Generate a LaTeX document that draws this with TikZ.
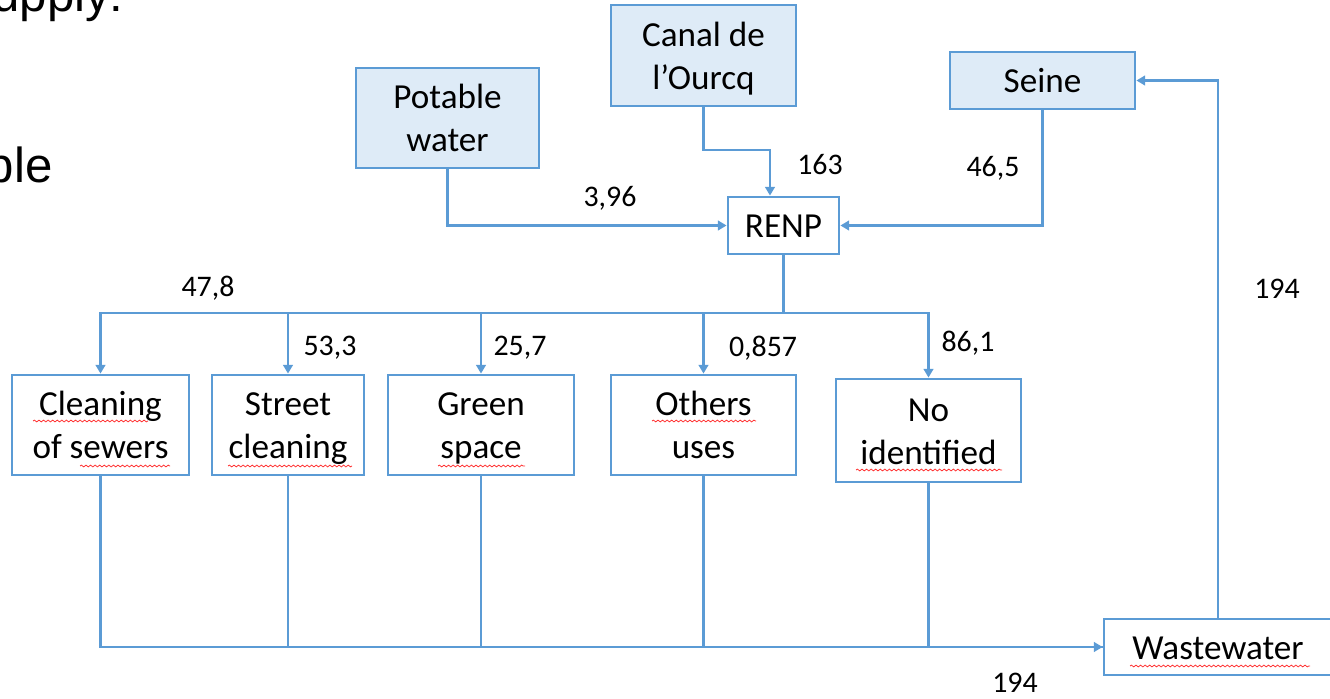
\documentclass[tikz,border=0pt]{standalone}
\usepackage{fontspec}
\setmainfont{Carlito}
\newfontfamily\slidefont{Liberation Sans}
\usetikzlibrary{arrows.meta}
\usetikzlibrary{positioning}
\usetikzlibrary{decorations.pathmorphing}
\definecolor{lineblue}{HTML}{5B9BD5}
\definecolor{boxblue}{HTML}{DEEBF7}
\newcommand{\boxstrut}{\rule[-5.4pt]{0pt}{24.5pt}}
\tikzset{box/.style = {draw=lineblue, line width=1.6pt, align=center, inner sep=0pt,
                       font=\fontsize{20}{24.5}\selectfont},
         srcbox/.style = {box, fill=boxblue},
         usebox/.style = {box, fill=white},
         flow/.style = {draw=lineblue, line width=1.6pt},
         flowarrow/.style = {flow, -{Triangle[length=5pt,width=5.5pt]}},
         qty/.style = {font=\fontsize{17}{20}\selectfont, inner sep=0pt},
         squiggle/.style = {draw=red!80, line width=0.45pt,
                            decoration={snake, amplitude=0.5pt, segment length=2.6pt},
                            decorate}}

\begin{document}
\begin{tikzpicture}[x=0.02cm, y=-0.02cm]
      \useasboundingbox (0, 0) rectangle (1330, 699);
      % leftover slide text
      \node [anchor = base east, inner sep=0pt, font=\slidefont\fontsize{28}{30}\selectfont] (slidea) at (124, 12) {upply:};
      \node [anchor = base east, inner sep=0pt, font=\slidefont\fontsize{28}{30}\selectfont] (slideb) at (53, 183) {ble};
      % sources
      \node [srcbox, minimum width=3.66cm, minimum height=2cm] (pot) at (447.5, 118) {Potable\boxstrut\\water\boxstrut};
      \node [srcbox, minimum width=3.7cm, minimum height=2.02cm] (canal) at (703.5, 55.5) {Canal de\boxstrut\\l’Ourcq\boxstrut};
      \node [srcbox, minimum width=3.7cm, minimum height=1.14cm] (seine) at (1042.5, 80.5) {Seine\boxstrut};
      \node [usebox, minimum width=2.22cm, minimum height=1.14cm] (renp) at (783.5, 225.5) {RENP\boxstrut};
      % uses
      \node [usebox, minimum width=3.54cm, minimum height=2cm] (sewers) at (100.5, 425) {Cleaning\boxstrut\\of sewers\boxstrut};
      \node [usebox, minimum width=3.04cm, minimum height=2cm] (street) at (288, 425) {Street\boxstrut\\cleaning\boxstrut};
      \node [usebox, minimum width=3.72cm, minimum height=2cm] (green) at (481, 425) {Green\boxstrut\\space\boxstrut};
      \node [usebox, minimum width=3.7cm, minimum height=2cm] (others) at (703.5, 425) {Others\boxstrut\\uses\boxstrut};
      \node [usebox, minimum width=3.7cm, minimum height=2.06cm] (noid) at (928.5, 430.5) {No\boxstrut\\identified\boxstrut};
      \node [usebox, minimum width=4.56cm, minimum height=1.12cm] (waste) at (1218, 647) {Wastewater\boxstrut};
      % inflows to RENP
      \coordinate (cbend) at (770, 150);
      \coordinate (split) at (783.5, 313);
      \draw [flowarrow] (pot.south) |- (renp.west);
      \draw [flowarrow] (canal.south) |- (cbend) -- (cbend |- renp.north);
      \draw [flowarrow] (seine.south) |- (renp.east);
      \draw [flow, line width=2.2pt] (renp.south) -- (split);
      % outflows to uses
      \draw [flowarrow] (split) -| (sewers.north);
      \draw [flowarrow] (split) -| (street.north);
      \draw [flowarrow] (split) -| (green.north);
      \draw [flowarrow] (split) -| (others.north);
      \draw [flowarrow] (split) -| (noid.north);
      % to wastewater
      \draw [flow] (street.south) |- (waste.west);
      \draw [flow] (green.south) |- (waste.west);
      \draw [flow] (others.south) |- (waste.west);
      \draw [flow] (noid.south) |- (waste.west);
      \draw [flowarrow] (sewers.south) |- (waste.west);
      \draw [flowarrow] (waste.north) |- (seine.east);
      % quantities
      \node [qty] (q396) at (610, 198) {3,96};
      \node [qty] (q163) at (820, 165) {163};
      \node [qty] (q465) at (993, 168) {46,5};
      \node [qty] (q478) at (208, 288) {47,8};
      \node [qty] (q533) at (330, 348) {53,3};
      \node [qty] (q257) at (520, 348) {25,7};
      \node [qty] (q0857) at (763, 348) {0,857};
      \node [qty] (q861) at (968, 343) {86,1};
      \node [qty] (qback) at (1277, 289) {194};
      \node [qty] (qwaste) at (1015, 683) {194};
      % spell check marks
      \draw [squiggle] (33, 421) -- (148, 421);
      \draw [squiggle] (80, 466) -- (170, 466);
      \draw [squiggle] (228, 466) -- (352, 466);
      \draw [squiggle] (438, 466) -- (525, 466);
      \draw [squiggle] (652, 421) -- (756, 421);
      \draw [squiggle] (856, 470) -- (1002, 470);
      \draw [squiggle] (1130, 666) -- (1310, 666);
\end{tikzpicture}
\end{document}
